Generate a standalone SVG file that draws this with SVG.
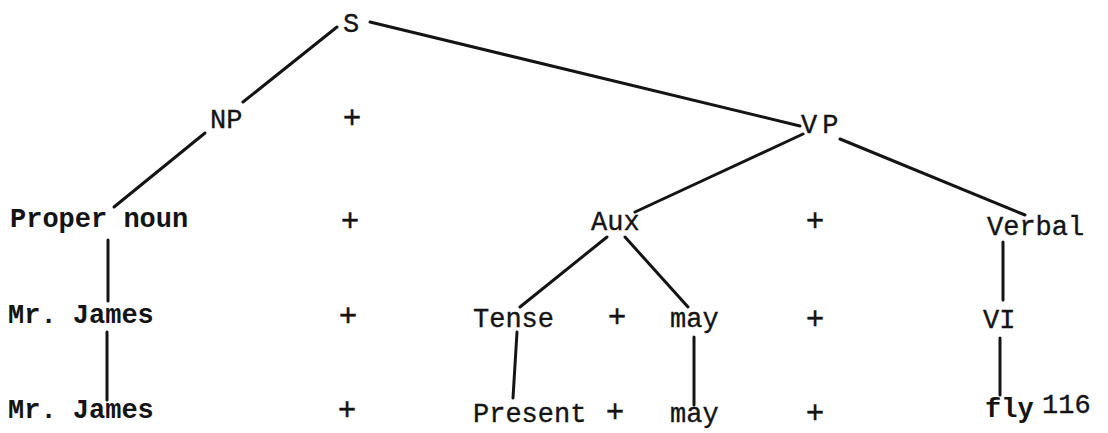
<svg xmlns="http://www.w3.org/2000/svg" width="1108" height="433" viewBox="0 0 1108 433">
<style>
text{font-family:"Liberation Mono","DejaVu Sans Mono",monospace;font-size:27px;fill:#141414;stroke:#141414;stroke-width:0.35}
.b{font-weight:bold;stroke-width:0}
.p{text-anchor:middle;font-size:31px}
#connectors line{stroke:#141414;stroke-width:3;stroke-linecap:round}
</style>
<rect width="1108" height="433" fill="#ffffff"/>
<g id="connectors">
<line x1="337" y1="27" x2="243" y2="102"/>
<line x1="370" y1="22" x2="800" y2="126"/>
<line x1="205" y1="133" x2="114" y2="207"/>
<line x1="108" y1="240" x2="108" y2="301"/>
<line x1="107" y1="332" x2="107" y2="400"/>
<line x1="803" y1="134" x2="635" y2="212"/>
<line x1="840" y1="139" x2="1025" y2="215"/>
<line x1="607" y1="237" x2="520" y2="307"/>
<line x1="625" y1="237" x2="688" y2="307"/>
<line x1="517" y1="332" x2="513" y2="398"/>
<line x1="694" y1="337" x2="694" y2="405"/>
<line x1="1003" y1="242" x2="1003" y2="300"/>
<line x1="1000" y1="338" x2="1000" y2="395"/>
</g>
<g id="S"><text x="343" y="32">S</text></g>
<g id="NP"><text x="210" y="128">NP</text></g>
<g id="VP"><text x="801" y="133" letter-spacing="5">VP</text></g>
<g id="ProperNoun"><text class="b" x="10" y="227">Proper noun</text></g>
<g id="Aux"><text x="591" y="230">Aux</text></g>
<g id="Verbal"><text x="987" y="235">Verbal</text></g>
<g id="MrJames1"><text class="b" x="8" y="323">Mr. James</text></g>
<g id="Tense"><text x="473" y="327">Tense</text></g>
<g id="may1"><text x="670" y="327">may</text></g>
<g id="VI"><text x="983" y="328">VI</text></g>
<g id="MrJames2"><text class="b" x="8" y="418">Mr. James</text></g>
<g id="Present"><text x="473" y="422">Present</text></g>
<g id="may2"><text x="670" y="422">may</text></g>
<g id="fly"><text class="b" x="985" y="417">fly</text></g>
<g id="page-number"><text x="1042" y="413">116</text></g>
<g id="plus-signs">
<text class="p" x="352" y="128">+</text>
<text class="p" x="350" y="231">+</text>
<text class="p" x="815" y="231">+</text>
<text class="p" x="348" y="326">+</text>
<text class="p" x="617" y="327">+</text>
<text class="p" x="815" y="329">+</text>
<text class="p" x="347" y="420">+</text>
<text class="p" x="615" y="422">+</text>
<text class="p" x="815" y="423">+</text>
</g>
</svg>
